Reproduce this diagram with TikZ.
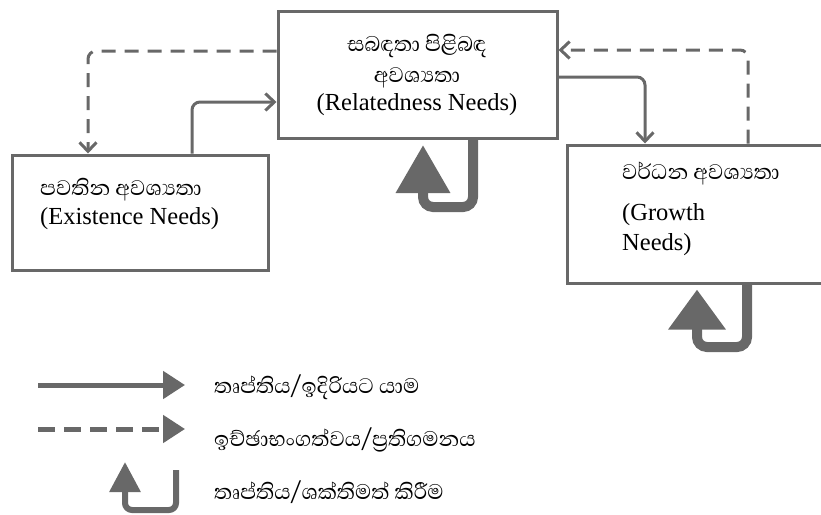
\documentclass[tikz,border=0pt]{standalone}
\usepackage{fontspec}
\setmainfont{Liberation Serif}
\newfontfamily\sinhfont[Script=Sinhala]{Abhaya Libre}
\usetikzlibrary{arrows.meta}
\definecolor{lg}{RGB}{104,104,104}
\tikzset{
  box/.style={draw=lg, line width=3pt, rectangle, inner sep=0pt},
  conn/.style={draw=lg, line width=3pt, rounded corners=8pt, -{Straight Barb[length=9pt,width=17pt,line width=3pt]}},
  dconn/.style={conn, dash pattern=on 14pt off 9pt},
  loopbig/.style={draw=lg, line width=10pt, rounded corners=10pt, -{Triangle[length=48pt,width=52pt]}, shorten >=5pt},
  legline/.style={draw=lg, line width=5pt, -{Triangle[length=22pt,width=27pt]}},
  legloop/.style={draw=lg, line width=6pt, rounded corners=7pt, -{Triangle[length=30pt,width=30pt]}},
  en/.style={inner sep=0pt, font=\fontsize{24.5}{29}\selectfont},
  si/.style={inner sep=0pt, font=\fontsize{27}{29}\sinhfont},
}
\begin{document}
\begin{tikzpicture}[x=1pt,y=-1pt]
\useasboundingbox (0,0) rectangle (821,514);
% boxes
\node[box, minimum width=279pt, minimum height=127pt] (top) at (417.5,75) {};
\node[box, minimum width=256pt, minimum height=115pt] (left) at (140,212.5) {};
\node[box, minimum width=270pt, minimum height=138pt] (right) at (702,214) {};
% texts
\node[si, anchor=base] (topa) at (417,51) {සබඳතා පිළිබඳ};
\node[si, anchor=base] (topb) at (417,82) {අවශ්^^^^200dයතා};
\node[en, anchor=base] (topc) at (417,110) {(Relatedness Needs)};
\node[si, anchor=base west] (lefta) at (40,195) {පවතින අවශ්^^^^200dයතා};
\node[en, anchor=base west] (leftb) at (40,224) {(Existence Needs)};
\node[si, anchor=base west] (righta) at (622,179) {වර්ධන අවශ්^^^^200dයතා};
\node[en, anchor=base west] (rightb) at (622,220) {(Growth};
\node[en, anchor=base west] (rightc) at (622,250) {Needs)};
% connectors
\draw[dconn] (top.west |- 0,51) -- (88,51) -- (left.north -| 88,0);
\draw[conn] (left.north -| 192,0) -- (192,102) -- (top.west |- 0,102);
\draw[conn] (top.east |- 0,77) -- (645,77) -- (right.north -| 645,0);
\draw[dconn] (right.north -| 748,0) -- (748,50) -- (top.east |- 0,50);
% self loops
\draw[loopbig] (top.south -| 473,0) -- (473,207) -- (423,207) -- (top.south -| 423,0);
\draw[loopbig, -{Triangle[length=40pt,width=55pt]}] (right.south -| 747,0) -- (747,347) -- (697,347) -- (right.south -| 697,0);
% legend
\coordinate (s1) at (38,385);
\coordinate (e1) at (185,385);
\coordinate (s2) at (38,429);
\coordinate (e2) at (185,429);
\coordinate (s3) at (176,470);
\coordinate (e3) at (125,462);
\draw[legline] (s1) -- (e1);
\draw[legline, dash pattern=on 17pt off 9pt] (s2) -- (e2);
\draw[legloop] (s3) -- (176,510) -- (125,510) -- (e3);
\node[si, anchor=base west] (t1) at (214,393) {තෘප්තිය/ඉදිරියට යාම};
\node[si, anchor=base west] (t2) at (214,446) {ඉච්ඡාභංගත්වය/ප්^^^^200dරතිගමනය};
\node[si, anchor=base west] (t3) at (214,499) {තෘප්තිය/ශක්තිමත් කිරීම};
\end{tikzpicture}
\end{document}
